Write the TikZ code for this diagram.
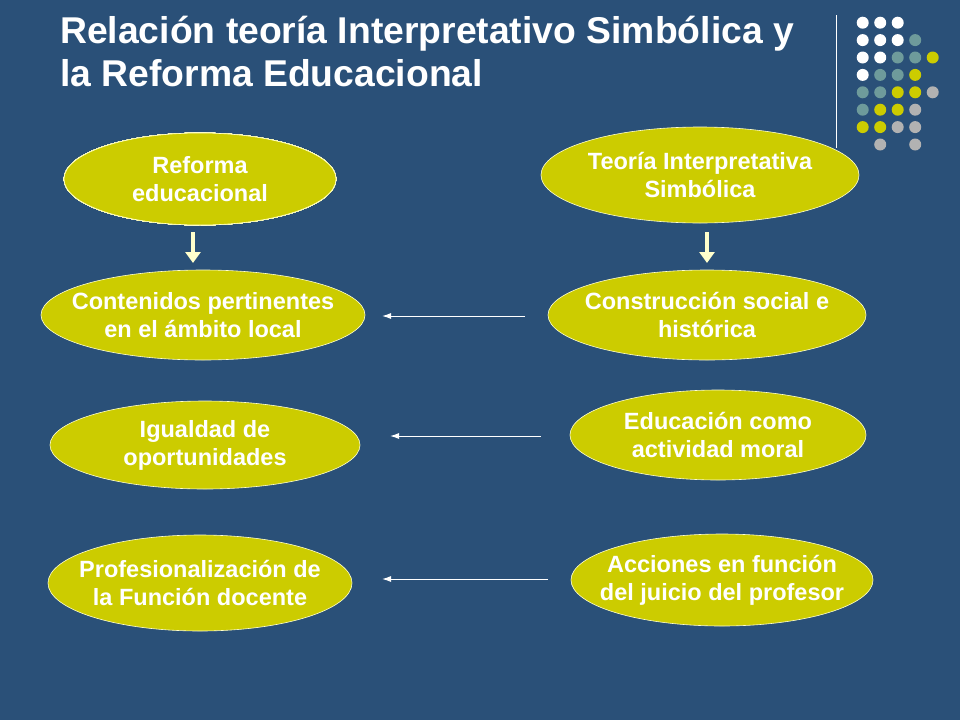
\documentclass[tikz,border=0pt]{standalone}
\usepackage{fontspec}
\setmainfont{Liberation Sans}
\usetikzlibrary{shapes.geometric,arrows.meta}
\definecolor{col_bg}{RGB}{42,80,120}
\definecolor{col_olive}{RGB}{204,204,0}
\definecolor{col_teal}{RGB}{110,155,155}
\definecolor{col_grey}{RGB}{178,178,178}
\definecolor{col_pale}{RGB}{255,255,204}
\newcommand{\slidedot}[3]{%
\fill[#1] (#2,#3) circle[radius=6];
}
\tikzset{
  idea/.style={ellipse, fill=col_olive, draw=col_pale, line width=0.6pt, inner xsep=-60pt, inner ysep=-10pt,
    text=white, font=\bfseries\fontsize{23.5}{28}\selectfont, align=center},
  thin arrow/.style={white, line width=1pt, -{Latex[length=9pt,width=6pt]}},
  fat arrow/.style={col_pale, line width=4pt, -{Triangle[length=11pt,width=15pt]}}
}
\begin{document}
\begin{tikzpicture}[x=1pt,y=-1pt]
\fill[col_bg] (0,0) rectangle (960,720);     %% background
\useasboundingbox (0,0) rectangle (960,720);
\node[anchor=west, inner sep=0pt, text=white, font=\bfseries\fontsize{37.3}{43}\selectfont, align=left] (title) at (60,52)
  {Relación teoría Interpretativo Simbólica y\\la Reforma Educacional};
\draw[white, line width=1pt] (836,15) -- (836,148);
%% dot grid
\foreach \c/\i/\j in {white/0/0,white/1/0,white/2/0,
  white/0/1,white/1/1,white/2/1,col_teal/3/1,
  white/0/2,white/1/2,col_teal/2/2,col_teal/3/2,col_olive/4/2,
  white/0/3,col_teal/1/3,col_teal/2/3,col_olive/3/3,
  col_teal/0/4,col_teal/1/4,col_olive/2/4,col_olive/3/4,col_grey/4/4,
  col_teal/0/5,col_olive/1/5,col_olive/2/5,col_grey/3/5,
  col_olive/0/6,col_olive/1/6,col_grey/2/6,col_grey/3/6,
  col_grey/1/7,col_grey/3/7}
  \slidedot{\c}{862.7+17.5*\i}{22.7+17.4*\j}
%% left column
\node[idea, minimum width=272, minimum height=92] (reforma) at (200,179) {Reforma\\educacional};
\node[idea, minimum width=324, minimum height=90] (contenidos) at (203,315) {Contenidos pertinentes\\en el ámbito local};
\node[idea, minimum width=310, minimum height=88] (igualdad) at (205,445) {Igualdad de\\oportunidades};
\node[idea, minimum width=304, minimum height=96] (profesional) at (200,583) {Profesionalización de\\la Función docente};
%% right column
\node[idea, minimum width=318, minimum height=96] (teoria) at (700,175) {Teoría Interpretativa\\Simbólica};
\node[idea, minimum width=318, minimum height=90] (construccion) at (707,315) {Construcción social e\\histórica};
\node[idea, minimum width=296, minimum height=90] (educacion) at (718,435) {Educación como\\actividad moral};
\node[idea, minimum width=302, minimum height=92] (acciones) at (722,580) {Acciones en función\\del juicio del profesor};
%% arrows
\coordinate (ra) at (193,232); \coordinate (rb) at (193,263);
\coordinate (ta) at (707,232); \coordinate (tb) at (707,263);
\draw[fat arrow] (ra) -- (rb);
\draw[fat arrow] (ta) -- (tb);
\coordinate (a1) at (525,316); \coordinate (b1) at (382,316);
\coordinate (a2) at (541,436); \coordinate (b2) at (390,436);
\coordinate (a3) at (548,579); \coordinate (b3) at (382,579);
\draw[thin arrow] (a1) -- (b1);
\draw[thin arrow] (a2) -- (b2);
\draw[thin arrow] (a3) -- (b3);
\end{tikzpicture}
\end{document}
